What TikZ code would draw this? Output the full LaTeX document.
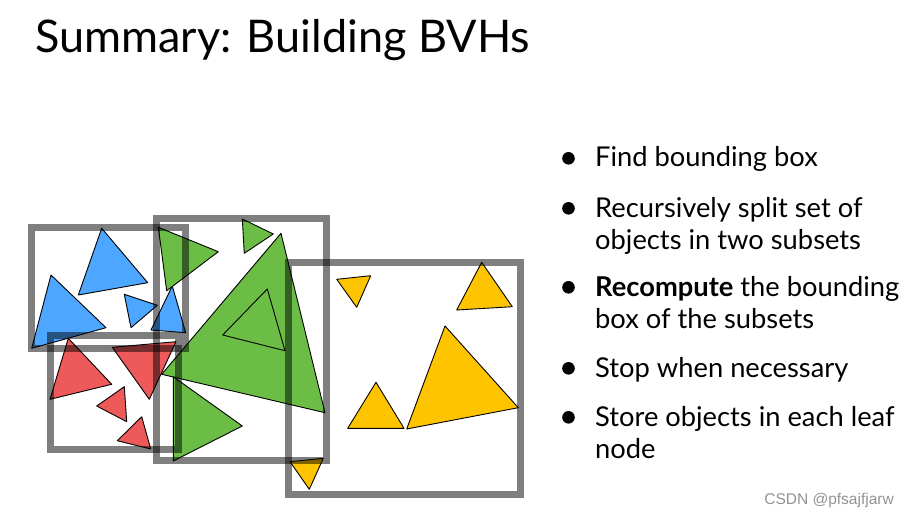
\documentclass[tikz,border=0pt]{standalone}
\usepackage{fontspec}
\setmainfont{Lato}
\newfontfamily\markfont{Liberation Sans}
\usepackage{tikz}
\usetikzlibrary{positioning}
\definecolor{bvhblue}{HTML}{4DA6FF}
\definecolor{bvhred}{HTML}{EE5A5A}
\definecolor{bvhgreen}{HTML}{6CBD45}
\definecolor{bvhyellow}{HTML}{FFC400}
\tikzset{
  tri/.style={draw=black, line width=0.9pt, line join=round},
  bbox/.style={draw=black, draw opacity=0.5, line width=7pt},
  % anchored at the baseline of the last line
  item/.style={anchor=base west, inner sep=0pt, align=left,
    font=\fontsize{27.3}{31.5}\selectfont},
}

\begin{document}
\begin{tikzpicture}[x=1pt, y=-1pt]
  \useasboundingbox (0,0) rectangle (910,516);
  \node[anchor=base west, inner sep=0pt, font=\fontsize{45}{50}\selectfont] (title) at (35,53) {Summary: Building BVHs};

  % blue objects
  \filldraw[tri, fill=bvhblue] (101.7,228.3) -- (147.7,282.7) -- (78.3,295) -- cycle;
  \filldraw[tri, fill=bvhblue] (51,275) -- (106,327.7) -- (31.7,348.3) -- cycle;
  \filldraw[tri, fill=bvhblue] (124.3,294.3) -- (157.3,305.3) -- (131,327.7) -- cycle;
  \filldraw[tri, fill=bvhblue] (172.3,286) -- (185.7,332.7) -- (151,330) -- cycle;
  % red objects
  \filldraw[tri, fill=bvhred] (68.3,338.3) -- (111.7,384.3) -- (50,399.3) -- cycle;
  \filldraw[tri, fill=bvhred] (112.3,347.3) -- (176,341.7) -- (149.3,399.3) -- cycle;
  \filldraw[tri, fill=bvhred] (124.3,386.7) -- (126.7,421.7) -- (96.7,406) -- cycle;
  \filldraw[tri, fill=bvhred] (141.7,416.7) -- (150.7,449) -- (117.3,440.7) -- cycle;
  % green objects
  \filldraw[tri, fill=bvhgreen] (158.3,227.3) -- (218.3,251.7) -- (166.7,290.7) -- cycle;
  \filldraw[tri, fill=bvhgreen] (242.3,219) -- (273.3,234) -- (244.3,253.3) -- cycle;
  \filldraw[tri, fill=bvhgreen] (281,233.3) -- (325,412.7) -- (161.7,374.3) -- cycle;
  \filldraw[tri, fill=bvhgreen] (267.3,289) -- (285,350.7) -- (222.7,335) -- cycle;
  \filldraw[tri, fill=bvhgreen] (173.3,376.7) -- (242.3,426) -- (173.3,461) -- cycle;
  % yellow objects
  \filldraw[tri, fill=bvhyellow] (336.7,279.3) -- (370.7,275.7) -- (356.7,307.3) -- cycle;
  \filldraw[tri, fill=bvhyellow] (481.7,262.3) -- (512.3,306.7) -- (456.7,310) -- cycle;
  \filldraw[tri, fill=bvhyellow] (445,326) -- (518.3,407.7) -- (406.7,429) -- cycle;
  \filldraw[tri, fill=bvhyellow] (376,382.3) -- (404,428.3) -- (347.7,428.3) -- cycle;
  \filldraw[tri, fill=bvhyellow] (290,461.7) -- (323.3,458.3) -- (309.3,489.3) -- cycle;

  % bounding boxes
  \draw[bbox] (31,227) rectangle (185,348);
  \draw[bbox] (50,335) rectangle (178,449);
  \draw[bbox] (156,218) rectangle (326,460);
  \draw[bbox] (288,262) rectangle (520,494);

  % bullet list
  \fill (568.5,158.3) circle (6.3);
  \fill (568.5,208.3) circle (6.3);
  \fill (568.5,287.3) circle (6.3);
  \fill (568.5,368.3) circle (6.3);
  \fill (568.5,417.3) circle (6.3);
  \node[item] (find) at (595,167) {Find bounding box};
  \node[item] (split) at (595,249) {Recursively split set of\\objects in two subsets};
  \node[item] (recompute) at (595,328) {\textbf{Recompute} the bounding\\box of the subsets};
  \node[item] (stop) at (595,377) {Stop when necessary};
  \node[item] (store) at (595,458) {Store objects in each leaf\\node};

  \node[anchor=base east, inner sep=0pt, text=gray!85, font=\markfont\fontsize{15.5}{18}\selectfont] (mark) at (894,504) {CSDN @pfsajfjarw};
\end{tikzpicture}
\end{document}
